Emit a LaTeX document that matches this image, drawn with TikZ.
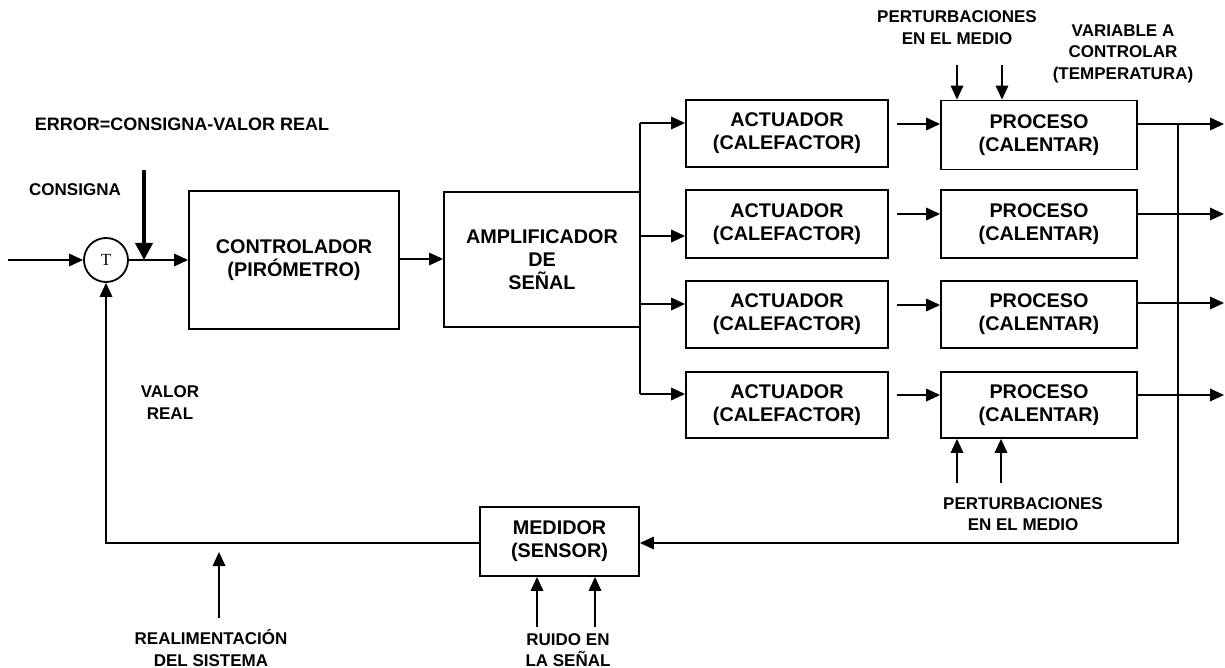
\documentclass[tikz,border=0pt]{standalone}
\usepackage{fontspec}
\setmainfont{Liberation Sans}
\newfontfamily\serifT{Liberation Serif}
\usetikzlibrary{arrows.meta}
\newcommand\bxfont{\fontsize{19.8}{23}\selectfont\bfseries}
\newcommand\lbfont{\fontsize{17}{21.5}\selectfont\bfseries}
\begin{document}
\begin{tikzpicture}[x=1pt,y=-1pt,
  box/.style={draw, line width=1.8pt, align=center, font=\bxfont, inner sep=0pt},
  lbl/.style={align=center, font=\lbfont, inner sep=0pt},
  ln/.style={line width=1.8pt},
  arr/.style={line width=1.8pt, -{Triangle[length=14pt,width=12.5pt]}},
  bigarr/.style={line width=4pt, -{Triangle[length=17pt,width=17pt]}}
]
\useasboundingbox (0,0) rectangle (1225,668);
\fill[white] (0,0) rectangle (1225,668);

% summing junction
\node[draw, circle, line width=1.8pt, minimum size=44pt, inner sep=0pt, font=\serifT\fontsize{17}{17}\selectfont] (sum) at (106,260) {T};
\coordinate (in) at (8,260);
\draw[arr] (in) -- (sum.west);

% blocks
\node[box, minimum width=210pt, minimum height=138pt] (ctl) at (294,260) {CONTROLADOR\\(PIRÓMETRO)};
\node[box, minimum width=196pt, minimum height=135pt] (amp) at (542,259.5) {AMPLIFICADOR\\DE\\SEÑAL};

\node[box, minimum width=202pt, minimum height=67pt] (a1) at (787,133.5) {ACTUADOR\\(CALEFACTOR)};
\node[box, minimum width=202pt, minimum height=68pt] (a2) at (787,224) {ACTUADOR\\(CALEFACTOR)};
\node[box, minimum width=202pt, minimum height=67pt] (a3) at (787,314.5) {ACTUADOR\\(CALEFACTOR)};
\node[box, minimum width=202pt, minimum height=66pt] (a4) at (787,405) {ACTUADOR\\(CALEFACTOR)};

\node[box, minimum width=196pt, minimum height=69pt] (p1) at (1039,135) {PROCESO\\(CALENTAR)};
\node[box, minimum width=196pt, minimum height=68pt] (p2) at (1039,224) {PROCESO\\(CALENTAR)};
\node[box, minimum width=196pt, minimum height=67pt] (p3) at (1039,314.5) {PROCESO\\(CALENTAR)};
\node[box, minimum width=196pt, minimum height=66pt] (p4) at (1039,405) {PROCESO\\(CALENTAR)};

\node[box, minimum width=159pt, minimum height=69pt] (med) at (559.5,541.5) {MEDIDOR\\(SENSOR)};

% forward path
\draw[arr] (sum.east) -- (ctl.west);
\coordinate (err) at (144,170);
\draw[bigarr] (err) -- (144,260);
\draw[arr] (ctl.east |- 0,259) -- (amp.west |- 0,259);

% distribution bus
\coordinate (b1) at (640,123);
\coordinate (b4) at (640,394);
\draw[ln] (b1) -- (b4);
\draw[arr] (b1) -- (a1.west |- b1);
\draw[arr] (640,236) -- (a2.west |- 0,236);
\draw[arr] (640,304) -- (a3.west |- 0,304);
\draw[arr] (b4) -- (a4.west |- b4);

% actuator -> process
\draw[arr, shorten <=8pt] (a1.east |- 0,124) -- (p1.west |- 0,124);
\draw[arr, shorten <=8pt] (a2.east |- 0,214) -- (p2.west |- 0,214);
\draw[arr, shorten <=8pt] (a3.east |- 0,305) -- (p3.west |- 0,305);
\draw[arr, shorten <=8pt] (a4.east |- 0,395) -- (p4.west |- 0,395);

% outputs
\coordinate (o1) at (1224,124);
\coordinate (o2) at (1224,214);
\coordinate (o3) at (1224,303);
\coordinate (o4) at (1224,395);
\draw[arr] (p1.east |- o1) -- (o1);
\draw[arr] (p2.east |- o2) -- (o2);
\draw[arr] (p3.east |- o3) -- (o3);
\draw[arr] (p4.east |- o4) -- (o4);

% feedback
\coordinate (fb) at (1178,124);
\draw[arr] (fb) -- (1178,543) -- (med.east |- 0,543);
\draw[arr] (med.west |- 0,543) -| (sum.south);

% disturbances top
\coordinate (dt1) at (957,65);
\coordinate (dt2) at (1002,65);
\draw[arr] (dt1) -- (dt1 |- p1.north);
\draw[arr] (dt2) -- (dt2 |- p1.north);
% disturbances bottom
\coordinate (db1) at (957,483);
\coordinate (db2) at (1001,483);
\draw[arr] (db1) -- (db1 |- p4.south);
\draw[arr] (db2) -- (db2 |- p4.south);
% noise
\coordinate (n1) at (537,627);
\coordinate (n2) at (595,627);
\draw[arr] (n1) -- (n1 |- med.south);
\draw[arr] (n2) -- (n2 |- med.south);
% feedback label arrow
\coordinate (rf) at (219,618);
\draw[arr] (rf) -- (219,552);

% labels
\node[lbl, font=\fontsize{18}{21.5}\selectfont\bfseries] (lerr) at (182,124) {ERROR=CONSIGNA-VALOR REAL};
\node[lbl] (lcons) at (75,190) {CONSIGNA};
\node[lbl] (lval) at (170,402.5) {VALOR\\REAL};
\node[lbl] (lpt) at (957,27.5) {PERTURBACIONES\\EN EL MEDIO};
\node[lbl] (lvar) at (1123,53.5) {VARIABLE A\\CONTROLAR\\(TEMPERATURA)};
\node[lbl] (lpb) at (1023,514) {PERTURBACIONES\\EN EL MEDIO};
\node[lbl] (lrea) at (211,648) {REALIMENTACIÓN\\DEL SISTEMA};
\node[lbl] (lrui) at (568,650) {RUIDO EN\\LA SEÑAL};
\end{tikzpicture}
\end{document}
